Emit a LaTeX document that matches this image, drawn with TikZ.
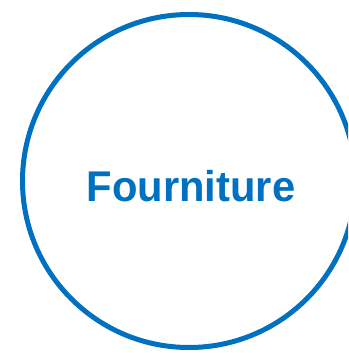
\documentclass[tikz,border=0pt]{standalone}
\usepackage{fontspec}
\setmainfont{Liberation Sans}
\definecolor{fourblue}{HTML}{0070C0}
\begin{document}
\begin{tikzpicture}[x=1pt, y=-1pt, every node/.style={inner sep=0pt}]
				% 1. 画布
				\clip (0,0) rectangle (348,353);
				\useasboundingbox (0,0) rectangle (348,353);
				
				% 2. 圆环
				\node[circle, draw=fourblue, line width=5pt, minimum size=333pt] (ring) at (189,181) {};
				
				% 3. 文字
				\node[text=fourblue, xscale=0.97, font=\bfseries\fontsize{43}{43}\selectfont] (label) at (191,186) {Fourniture};
			\end{tikzpicture}
\end{document}
